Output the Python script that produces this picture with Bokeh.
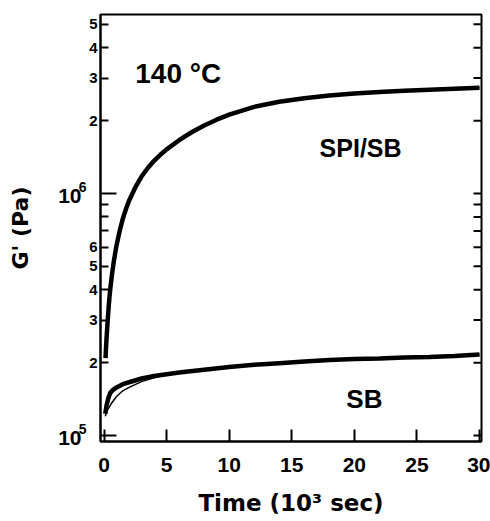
from math import pi, log10
from bokeh.plotting import figure
from bokeh.models import Range1d, FixedTicker, Label, LogAxis
from bokeh.embed import file_html
from bokeh.resources import INLINE

# ---- data (time in 10^3 s, G' in Pa) ----
spi_t = [0.12, 0.2, 0.3, 0.4, 0.5, 0.65, 0.8, 1.0, 1.25, 1.5, 1.75, 2.0, 2.5, 3.0, 3.5, 4.0,
         4.5, 5.0, 6.0, 7.0, 8.0, 9.0, 10.0, 12.0, 14.0, 16.0, 18.0, 20.0, 22.0, 24.0, 26.0,
         28.0, 30.0]
spi_g = [2.09e5, 2.51e5, 3.02e5, 3.55e5, 4.03e5, 4.68e5, 5.31e5, 6.10e5, 7.00e5, 7.85e5,
         8.61e5, 9.33e5, 1.059e6, 1.175e6, 1.274e6, 1.365e6, 1.445e6, 1.521e6, 1.660e6,
         1.791e6, 1.910e6, 2.018e6, 2.118e6, 2.280e6, 2.393e6, 2.477e6, 2.541e6, 2.588e6,
         2.624e6, 2.655e6, 2.685e6, 2.710e6, 2.735e6]
spi_fit_t = [0.15, 0.3, 0.5, 0.8, 1.0, 1.25, 1.5, 2.0, 2.5, 3.0, 4.0, 5.0, 6.0, 8.0, 10.0,
             12.0, 14.0, 16.0, 18.0, 20.0, 24.0, 28.0, 30.0]
spi_fit_g = [2.14e5, 2.88e5, 3.85e5, 5.13e5, 5.96e5, 6.92e5, 7.76e5, 9.29e5, 1.057e6,
             1.175e6, 1.365e6, 1.521e6, 1.660e6, 1.910e6, 2.118e6, 2.280e6, 2.393e6,
             2.477e6, 2.541e6, 2.588e6, 2.655e6, 2.710e6, 2.735e6]
sb_t = [0.1, 0.2, 0.35, 0.5, 0.7, 1.0, 1.5, 2.0, 3.0, 4.0, 5.0, 6.0, 8.0, 10.0, 12.0, 14.0,
        16.0, 18.0, 20.0, 22.0, 24.0, 26.0, 28.0, 30.0]
sb_g = [1.23e5, 1.33e5, 1.43e5, 1.50e5, 1.54e5, 1.58e5, 1.63e5, 1.66e5, 1.72e5, 1.76e5, 1.79e5,
        1.82e5, 1.87e5, 1.92e5, 1.96e5, 1.99e5, 2.02e5, 2.05e5, 2.07e5, 2.08e5, 2.10e5, 2.11e5,
        2.13e5, 2.16e5]
sb_fit_t = [0.1, 0.3, 0.6, 1.0, 1.5, 2.0, 3.0, 4.0, 5.0, 6.0, 8.0, 10.0, 12.0, 16.0, 20.0,
            25.0, 30.0]
sb_fit_g = [1.20e5, 1.28e5, 1.36e5, 1.45e5, 1.53e5, 1.58e5, 1.67e5, 1.73e5, 1.78e5, 1.82e5,
            1.87e5, 1.92e5, 1.96e5, 2.02e5, 2.07e5, 2.10e5, 2.15e5]

x_ticks = [0, 5, 10, 15, 20, 25, 30]
y_ticks = [2e5, 3e5, 4e5, 5e5, 6e5, 2e6, 3e6, 4e6, 5e6]
y_tick_labels = ["2", "3", "4", "5", "6", "2", "3", "4", "5"]
y_minor = [7e5, 8e5, 9e5]
y_decades = [1e5, 1e6]
y_decade_base = ["10", "10"]
y_decade_exps = ["5", "6"]

X_START, X_END = -0.28, 30.16
Y_START, Y_END = 9.445e4, 5.49e6
W, H = 490, 521
B_LEFT, B_RIGHT, B_TOP, B_BOTTOM = 100, 9, 14, 80
FONT = "Liberation Sans"
TFONT = "DejaVu Sans"
INK = "black"

# pixel -> decade conversion (used only to nudge the split "10" / exponent labels)
PX_PER_DEC = (H - B_TOP - B_BOTTOM) / log10(Y_END / Y_START)
exp_pos = [d * 10 ** (6 / PX_PER_DEC) for d in y_decades]
base_pos = [d * 10 ** (-3 / PX_PER_DEC) for d in y_decades]

p = figure(width=W, height=H, y_axis_type="log",
           x_range=Range1d(X_START, X_END), y_range=Range1d(Y_START, Y_END),
           output_backend="svg", toolbar_location=None,
           min_border_left=B_LEFT, min_border_right=B_RIGHT,
           min_border_top=B_TOP, min_border_bottom=B_BOTTOM)
p.grid.visible = False
p.outline_line_color = INK
p.outline_line_width = 2
p.background_fill_color = "white"
p.border_fill_color = "white"

# x axis
xa = p.xaxis[0]
xa.ticker = FixedTicker(ticks=x_ticks)
xa.major_tick_in = 12
xa.major_tick_out = 0
xa.minor_tick_line_color = None
xa.major_tick_line_width = 2
xa.major_tick_line_color = INK
xa.axis_line_width = 2
xa.axis_line_color = INK
xa.major_label_text_font = FONT
xa.major_label_text_font_style = "bold"
xa.major_label_text_font_size = "21px"
xa.major_label_text_color = INK
xa.major_label_text_line_height = 1.0
xa.major_label_standoff = 16
xa.axis_label = "Time (10³ sec)"
xa.axis_label_text_font = TFONT
xa.axis_label_text_font_style = "bold"
xa.axis_label_text_font_size = "23px"
xa.axis_label_text_color = INK
xa.axis_label_text_line_height = 1.0
xa.axis_label_standoff = 15

# y axis (inner: mantissa labels and ticks)
ya = p.yaxis[0]
ya.ticker = FixedTicker(ticks=y_ticks, minor_ticks=y_minor)
ya.major_label_overrides = {v: s for v, s in zip(y_ticks, y_tick_labels)}
ya.major_tick_in = 8
ya.major_tick_out = 0
ya.minor_tick_in = 8
ya.minor_tick_out = 0
ya.major_tick_line_width = 2
ya.minor_tick_line_width = 2
ya.major_tick_line_color = INK
ya.minor_tick_line_color = INK
ya.axis_line_width = 2
ya.axis_line_color = INK
ya.major_label_text_font = FONT
ya.major_label_text_font_style = "bold"
ya.major_label_text_font_size = "15px"
ya.major_label_text_color = INK
ya.major_label_standoff = 3

def bare_axis(ticks, labels, size, standoff):
    return LogAxis(ticker=FixedTicker(ticks=ticks, minor_ticks=[]),
                   major_label_overrides={v: s for v, s in zip(ticks, labels)},
                   axis_line_color=None, major_tick_line_color=None,
                   minor_tick_line_color=None, major_tick_in=0, major_tick_out=0,
                   minor_tick_in=0, minor_tick_out=0, major_label_standoff=standoff,
                   major_label_text_font=FONT, major_label_text_font_style="bold",
                   major_label_text_font_size=size, major_label_text_color=INK)

# middle: exponents of the decade labels
y_exp_axis = bare_axis(exp_pos, y_decade_exps, "14px", 0)
p.add_layout(y_exp_axis, "left")
# outer: "10" of the decade labels, and the axis title
y_base_axis = bare_axis(base_pos, y_decade_base, "21px", -6)
y_base_axis.axis_label = "G' (Pa)"
y_base_axis.axis_label_text_font = TFONT
y_base_axis.axis_label_text_font_style = "bold"
y_base_axis.axis_label_text_font_size = "22px"
y_base_axis.axis_label_text_color = INK
y_base_axis.axis_label_standoff = 22
p.add_layout(y_base_axis, "left")

# long decade ticks (left) and mirrored ticks (right)
p.ray(x=[X_START] * len(y_decades), y=y_decades, length=16, angle=0,
      length_units="screen", line_width=2, color=INK)
right_ticks = y_ticks + y_minor + y_decades
p.ray(x=[X_END] * len(right_ticks), y=right_ticks, length=8, angle=pi,
      length_units="screen", line_width=2, color=INK)

# curves
p.line(spi_fit_t, spi_fit_g, line_width=1.5, color=INK)
p.line(spi_t, spi_g, line_width=4.5, color=INK)
p.line(sb_fit_t, sb_fit_g, line_width=1.5, color=INK)
p.line(sb_t, sb_g, line_width=4.5, color=INK)

# annotations
p.add_layout(Label(x=2.5, y=3.13e6, text="140 °C", text_align="left", text_color=INK,
                   text_baseline="alphabetic", text_font=FONT,
                   text_font_style="bold", text_font_size="28px"))
p.add_layout(Label(x=20.5, y=1.535e6, text="SPI/SB", text_align="center", text_color=INK,
                   text_baseline="alphabetic", text_font=FONT,
                   text_font_style="bold", text_font_size="25px"))
p.add_layout(Label(x=20.8, y=1.42e5, text="SB", text_align="center", text_color=INK,
                   text_baseline="alphabetic", text_font=FONT,
                   text_font_style="bold", text_font_size="26px"))

open("out.html", "w").write(file_html(p, INLINE))
